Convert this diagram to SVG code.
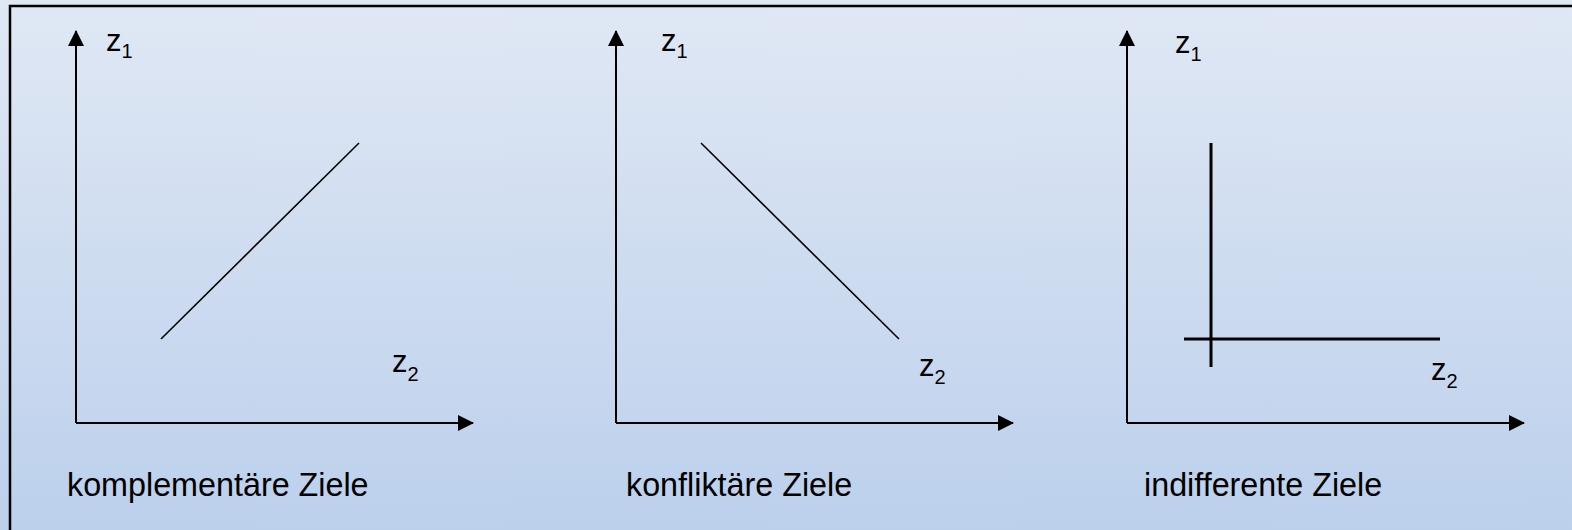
<svg xmlns="http://www.w3.org/2000/svg" width="1572" height="530" viewBox="0 0 1572 530">
  <defs>
    <linearGradient id="bg" x1="0" y1="0" x2="0" y2="1">
      <stop offset="0" stop-color="#e0e8f4"/>
      <stop offset="1" stop-color="#bcd0ec"/>
    </linearGradient>
    <marker id="arrow" viewBox="0 0 16 16" refX="15" refY="8" markerWidth="16" markerHeight="16" markerUnits="userSpaceOnUse" orient="auto">
      <path d="M0,0 L16,8 L0,16 Z" fill="#000"/>
    </marker>
  </defs>
  <style>
    .axis { stroke: #000; stroke-width: 2; fill: none; }
    .curve { stroke: #000; stroke-width: 1.6; fill: none; }
    .thick { stroke: #000; stroke-width: 3; fill: none; }
    .lbl { font-family: "Liberation Sans", Arial, sans-serif; font-size: 31px; fill: #000; }
    .sub { font-size: 20px; }
    .cap { font-family: "Liberation Sans", Arial, sans-serif; font-size: 32.3px; fill: #000; }
  </style>
  <rect x="0" y="0" width="1572" height="530" fill="url(#bg)"/>
  <path d="M10,530 L10,6 L1572,6" stroke="#000" stroke-width="2.5" fill="none"/>

  <g id="connectors">
    <line class="axis" x1="76" y1="423" x2="76" y2="31" marker-end="url(#arrow)"/>
    <line class="axis" x1="76" y1="423" x2="473" y2="423" marker-end="url(#arrow)"/>
    <line class="axis" x1="616" y1="423" x2="616" y2="31" marker-end="url(#arrow)"/>
    <line class="axis" x1="616" y1="423" x2="1013" y2="423" marker-end="url(#arrow)"/>
    <line class="axis" x1="1127" y1="423" x2="1127" y2="31" marker-end="url(#arrow)"/>
    <line class="axis" x1="1127" y1="423" x2="1524" y2="423" marker-end="url(#arrow)"/>
  </g>

  <g id="panel-komplementaer">
    <line class="curve" x1="161" y1="339" x2="359" y2="143"/>
    <text class="lbl" x="106" y="51">z<tspan class="sub" dy="7">1</tspan></text>
    <text class="lbl" x="392" y="372">z<tspan class="sub" dy="9">2</tspan></text>
    <text class="cap" x="67" y="496">komplementäre Ziele</text>
  </g>

  <g id="panel-konfliktaer">
    <line class="curve" x1="701" y1="143" x2="899" y2="339"/>
    <text class="lbl" x="661" y="51">z<tspan class="sub" dy="7">1</tspan></text>
    <text class="lbl" x="919" y="376">z<tspan class="sub" dy="8">2</tspan></text>
    <text class="cap" x="626" y="496">konfliktäre Ziele</text>
  </g>

  <g id="panel-indifferent">
    <line class="thick" x1="1211" y1="143" x2="1211" y2="367"/>
    <line class="thick" x1="1184" y1="339" x2="1440" y2="339"/>
    <text class="lbl" x="1175" y="53">z<tspan class="sub" dy="8">1</tspan></text>
    <text class="lbl" x="1431" y="380">z<tspan class="sub" dy="8">2</tspan></text>
    <text class="cap" x="1144" y="496">indifferente Ziele</text>
  </g>
</svg>
